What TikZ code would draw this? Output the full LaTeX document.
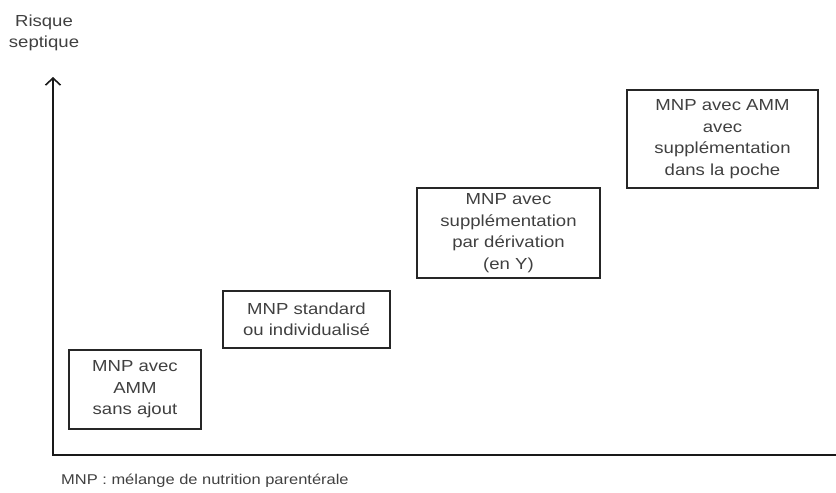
\documentclass[tikz,border=0pt]{standalone}
\usepackage{fontspec}
\setmainfont[FakeStretch=1.16]{Liberation Sans}
\usetikzlibrary{arrows.meta}
\begin{document}
\begin{tikzpicture}[x=1pt,y=-1pt,
  stepbox/.style={draw=black!85,line width=1.6pt,inner sep=0pt,align=center,
    font=\fontsize{16}{21.5}\selectfont,text=black!75},
  lab/.style={align=center,inner sep=0pt,text=black!75},
  axis/.style={line width=1.8pt,black!90}]
\useasboundingbox (0,0) rectangle (836,493);
\node[lab,font=\fontsize{16}{20.5}\selectfont] (ylab) at (44,33) {Risque\\septique};
\coordinate (origin) at (53,455);
\coordinate (ytop) at (53,77);
\coordinate (xend) at (836,455);
\draw[axis,-{Straight Barb[length=7pt,width=15pt,line width=1.6pt]}] (origin) -- (ytop);
\draw[axis] ([xshift=-0.9pt]origin) -- (xend);
\node[stepbox,minimum width=132pt,minimum height=79pt] (b1) at (135,389.5) {MNP avec\\AMM\\sans ajout};
\node[stepbox,minimum width=167pt,minimum height=57pt] (b2) at (306.5,319.5) {MNP standard\\ou individualisé};
\node[stepbox,minimum width=183pt,minimum height=90pt] (b3) at (508.5,233) {MNP avec\\supplémentation\\par dérivation\\(en Y)};
\node[stepbox,minimum width=191pt,minimum height=98pt] (b4) at (722.5,139) {MNP avec AMM\\avec\\supplémentation\\dans la poche};
\node[lab,anchor=west,font=\fontsize{14.2}{17}\selectfont] (note) at (61,481) {MNP : mélange de nutrition parentérale};
\end{tikzpicture}
\end{document}
